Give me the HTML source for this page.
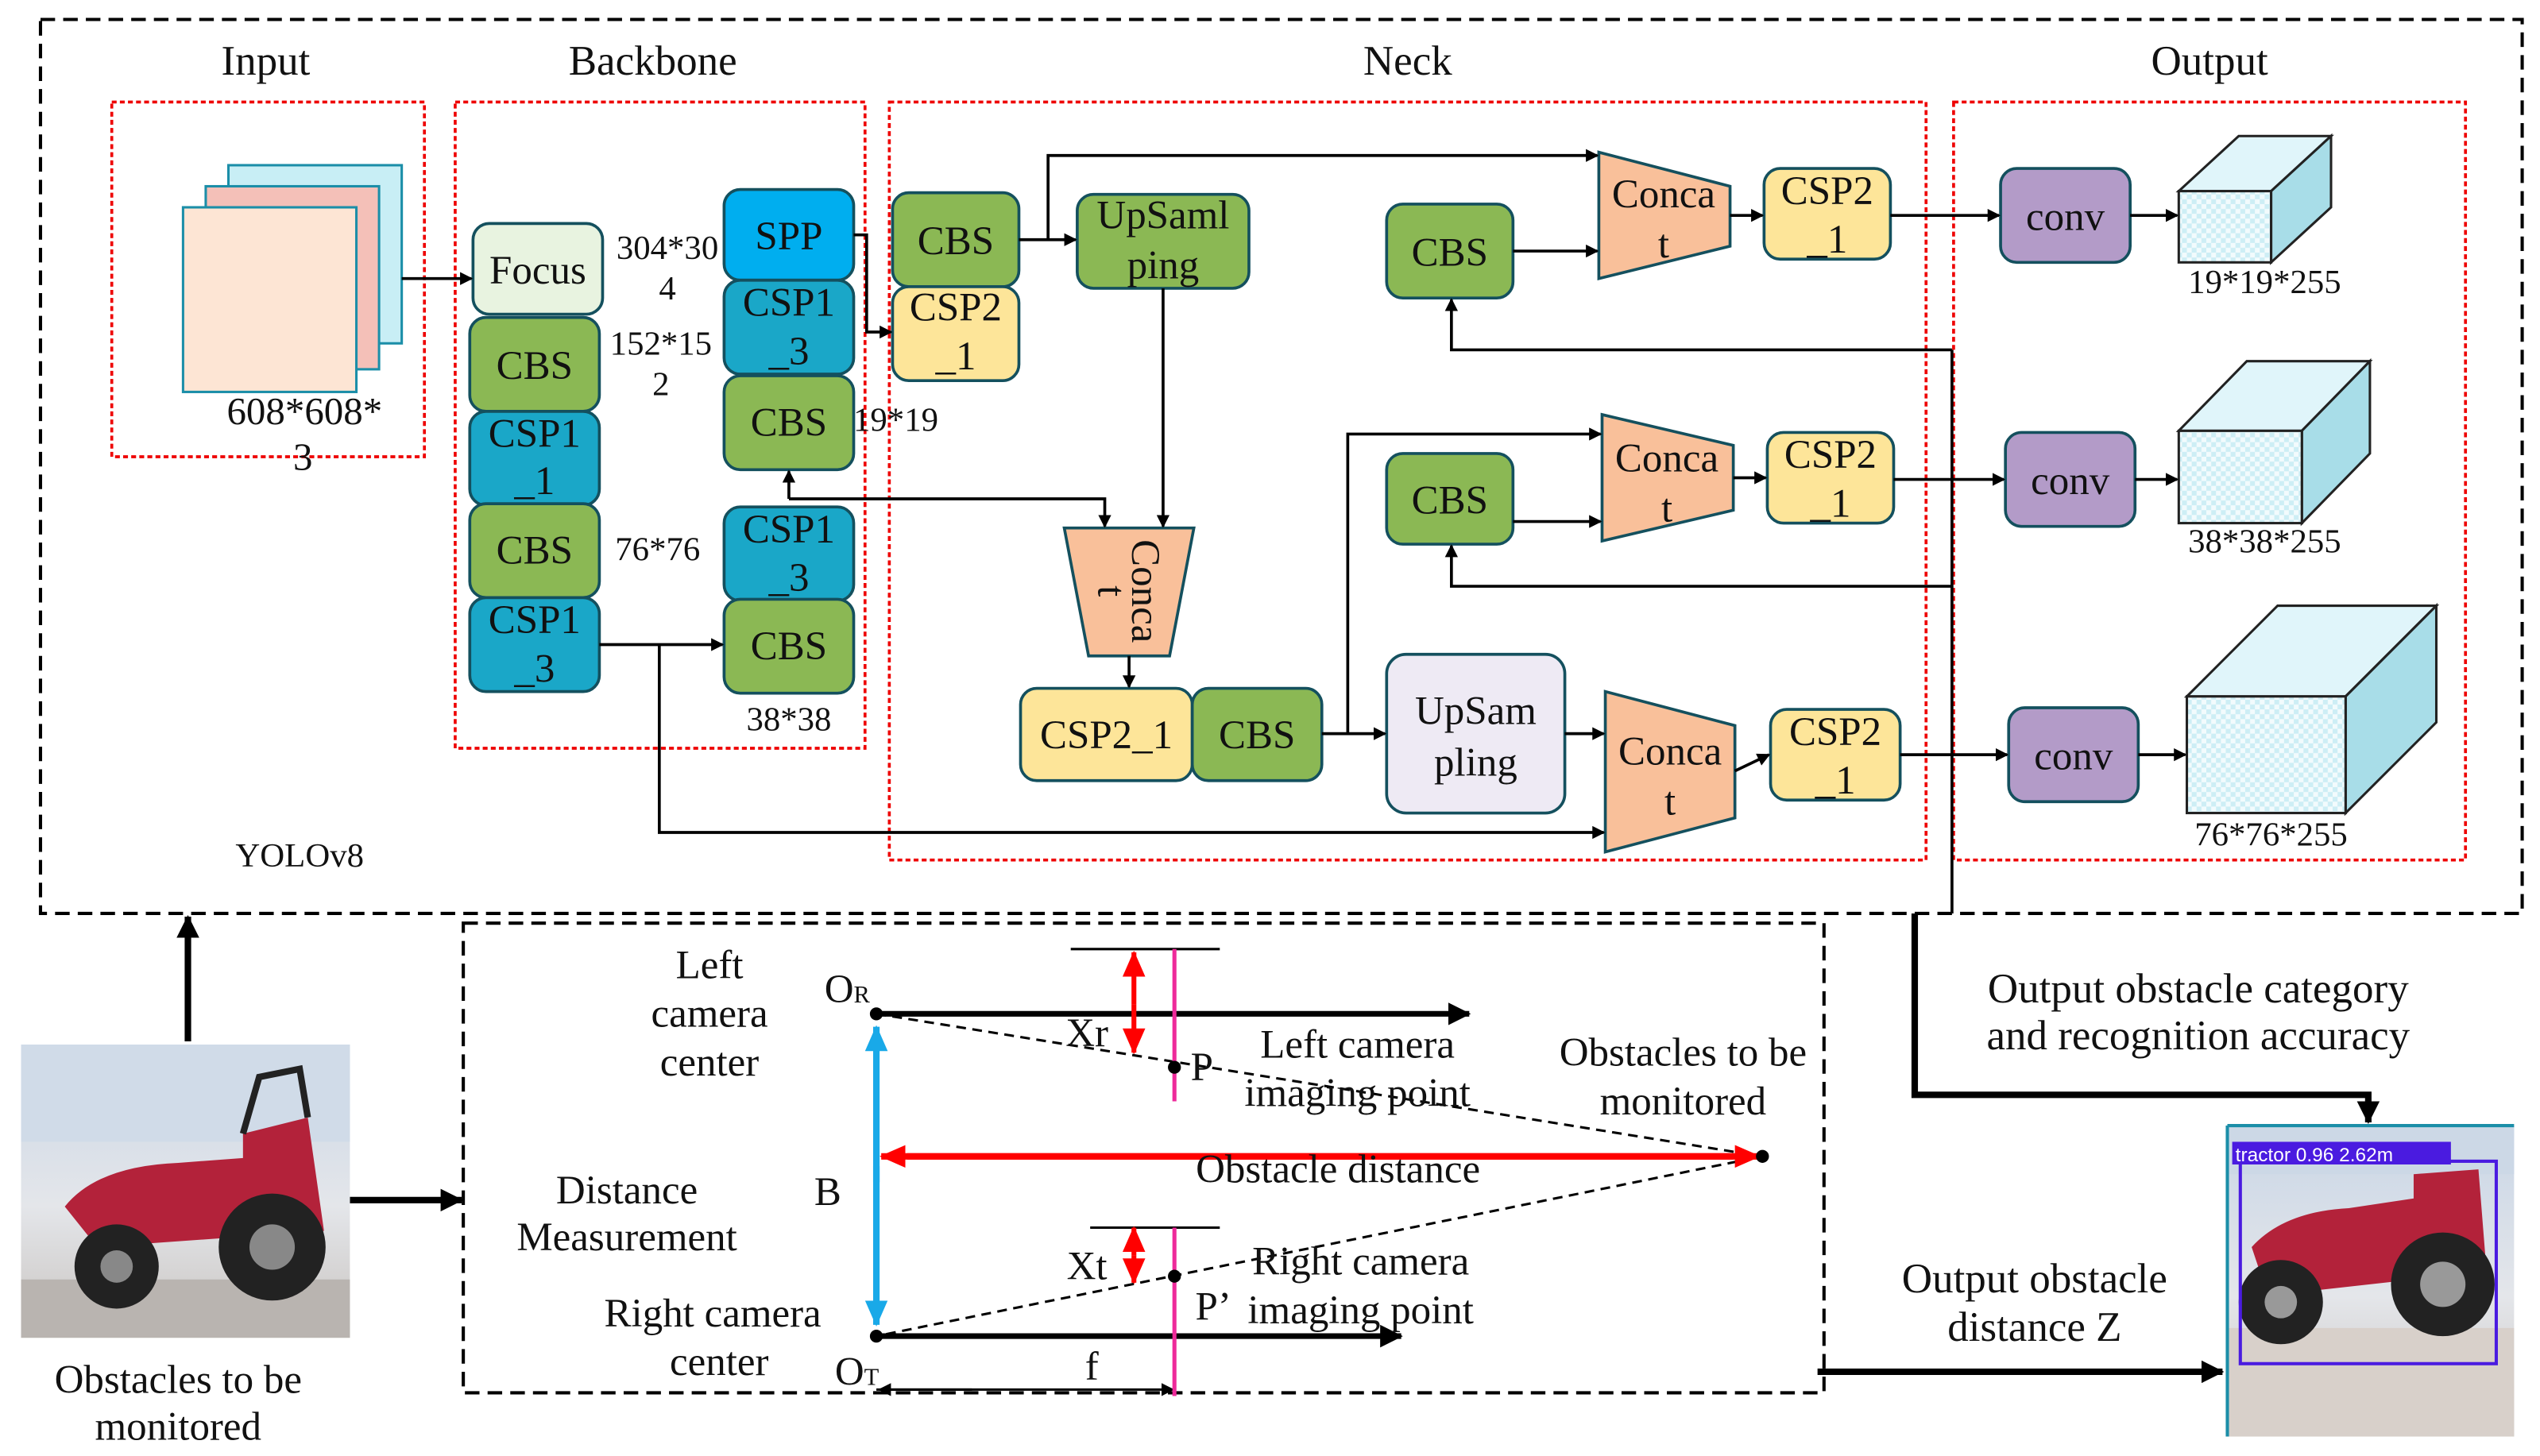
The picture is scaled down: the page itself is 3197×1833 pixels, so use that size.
<!DOCTYPE html>
<html><head><meta charset="utf-8"><style>
html,body{margin:0;padding:0;background:#fff}
svg{display:block}
text{font-family:"Liberation Serif",serif;fill:#111}
</style></head><body>
<svg width="3197" height="1833" viewBox="0 0 1568 899" xmlns="http://www.w3.org/2000/svg">
<defs>
<marker id="a" markerWidth="8" markerHeight="8" refX="7" refY="4" orient="auto" markerUnits="userSpaceOnUse"><path d="M0,0 L8,4 L0,8z" fill="#000"/></marker>
<marker id="ab" markerWidth="14" markerHeight="14" refX="13" refY="7" orient="auto" markerUnits="userSpaceOnUse"><path d="M0,0 L14,7 L0,14z" fill="#000"/></marker>
<marker id="ar" markerWidth="16" markerHeight="14" refX="15" refY="7" orient="auto" markerUnits="userSpaceOnUse"><path d="M0,0 L16,7 L0,14z" fill="#f00"/></marker>
<marker id="arb" markerWidth="16" markerHeight="14" refX="15" refY="7" orient="auto" markerUnits="userSpaceOnUse"><path d="M0,0 L16,7 L0,14z" fill="#19a9e8"/></marker>
<pattern id="chk" width="6" height="6" patternUnits="userSpaceOnUse"><rect width="6" height="6" fill="#f2fbfd"/><rect width="3" height="3" fill="#cdeef5"/><rect x="3" y="3" width="3" height="3" fill="#cdeef5"/></pattern>
<linearGradient id="sky" x1="0" y1="0" x2="0" y2="1"><stop offset="0" stop-color="#c9d6e6"/><stop offset=".55" stop-color="#e4e6ea"/><stop offset="1" stop-color="#c8c3bf"/></linearGradient>
</defs>

<rect x="25" y="12" width="1532" height="552" fill="none" stroke="#000" stroke-width="2" stroke-dasharray="9,5"/>
<rect x="286" y="570" width="840" height="290" fill="none" stroke="#000" stroke-width="2" stroke-dasharray="9,5"/>
<g fill="none" stroke="#e00" stroke-width="1.8" stroke-dasharray="3,2">
<rect x="69" y="63" width="193" height="219"/>
<rect x="281" y="63" width="253" height="399"/>
<rect x="549" y="63" width="640" height="468"/>
<rect x="1206" y="63" width="316" height="468"/>
</g>
<g font-size="26" text-anchor="middle">
<text x="164" y="46">Input</text><text x="403" y="46">Backbone</text><text x="869" y="46">Neck</text><text x="1364" y="46">Output</text>
</g>
<text x="185" y="535" font-size="21" text-anchor="middle">YOLOv8</text>

<rect x="141" y="102" width="107" height="110" fill="#c8eef5" stroke="#1b8ea8" stroke-width="1.5"/>
<rect x="127" y="115" width="107" height="113" fill="#f4c0b8" stroke="#1b8ea8" stroke-width="1.5"/>
<rect x="113" y="128" width="107" height="114" fill="#fde5d4" stroke="#1b8ea8" stroke-width="1.5"/>
<text x="188" y="262" font-size="24" text-anchor="middle">608*608*</text>
<text x="187" y="290" font-size="24" text-anchor="middle">3</text>

<g stroke="#14505e" stroke-width="1.8">
<rect x="292" y="138" width="80" height="56" rx="10" fill="#e8f3e0"/>
<rect x="290" y="196" width="80" height="58" rx="10" fill="#8bb854"/>
<rect x="290" y="254" width="80" height="58" rx="10" fill="#1aa7c8"/>
<rect x="290" y="311" width="80" height="58" rx="10" fill="#8bb854"/>
<rect x="290" y="369" width="80" height="58" rx="10" fill="#1aa7c8"/>
<rect x="447" y="117" width="80" height="56" rx="10" fill="#00aeef"/>
<rect x="447" y="173" width="80" height="58" rx="10" fill="#1aa7c8"/>
<rect x="447" y="232" width="80" height="58" rx="10" fill="#8bb854"/>
<rect x="447" y="313" width="80" height="58" rx="10" fill="#1aa7c8"/>
<rect x="447" y="370" width="80" height="58" rx="10" fill="#8bb854"/>
<rect x="551" y="119" width="78" height="58" rx="10" fill="#8bb854"/>
<rect x="551" y="177" width="78" height="58" rx="10" fill="#fde599"/>
<rect x="665" y="120" width="106" height="58" rx="10" fill="#8bb854"/>
<rect x="630" y="425" width="106" height="57" rx="10" fill="#fde599"/>
<rect x="736" y="425" width="80" height="57" rx="10" fill="#8bb854"/>
<rect x="856" y="126" width="78" height="58" rx="10" fill="#8bb854"/>
<rect x="856" y="280" width="78" height="56" rx="10" fill="#8bb854"/>
<rect x="856" y="404" width="110" height="98" rx="12" fill="#eeeaf4"/>
<rect x="1089" y="104" width="78" height="56" rx="10" fill="#fde599"/>
<rect x="1091" y="267" width="78" height="56" rx="10" fill="#fde599"/>
<rect x="1093" y="438" width="80" height="56" rx="10" fill="#fde599"/>
<rect x="1235" y="104" width="80" height="58" rx="10" fill="#b39bc8"/>
<rect x="1238" y="267" width="80" height="58" rx="10" fill="#b39bc8"/>
<rect x="1240" y="437" width="80" height="58" rx="10" fill="#b39bc8"/>
<path d="M657,326 L737,326 L722,405 L672,405z" fill="#f9c09a"/>
<path d="M987,94 L1068,115 L1068,152 L987,172z" fill="#f9c09a"/>
<path d="M989,256 L1070,275 L1070,315 L989,334z" fill="#f9c09a"/>
<path d="M991,427 L1071,448 L1071,505 L991,526z" fill="#f9c09a"/>
</g>
<g font-size="25" text-anchor="middle">
<text x="332" y="175">Focus</text>
<text x="330" y="234">CBS</text>
<text x="330" y="276">CSP1</text><text x="330" y="305">_1</text>
<text x="330" y="348">CBS</text>
<text x="330" y="391">CSP1</text><text x="330" y="421">_3</text>
<text x="487" y="154">SPP</text>
<text x="487" y="195">CSP1</text><text x="487" y="225">_3</text>
<text x="487" y="269">CBS</text>
<text x="487" y="335">CSP1</text><text x="487" y="365">_3</text>
<text x="487" y="407">CBS</text>
<text x="590" y="157">CBS</text>
<text x="590" y="198">CSP2</text><text x="590" y="228">_1</text>
<text x="718" y="141">UpSaml</text><text x="718" y="172">ping</text>
<text x="683" y="462">CSP2_1</text>
<text x="776" y="462">CBS</text>
<text x="895" y="164">CBS</text>
<text x="895" y="317">CBS</text>
<text x="911" y="447">UpSam</text><text x="911" y="479">pling</text>
<text x="1128" y="126">CSP2</text><text x="1128" y="156">_1</text>
<text x="1130" y="289">CSP2</text><text x="1130" y="319">_1</text>
<text x="1133" y="460">CSP2</text><text x="1133" y="490">_1</text>
<text x="1275" y="142">conv</text>
<text x="1278" y="305">conv</text>
<text x="1280" y="475">conv</text>
<text x="1027" y="128">Conca</text><text x="1027" y="159">t</text>
<text x="1029" y="291">Conca</text><text x="1029" y="322">t</text>
<text x="1031" y="472">Conca</text><text x="1031" y="503">t</text>
<text transform="translate(699,365) rotate(90)">Conca</text>
<text transform="translate(678,365) rotate(90)">t</text>
</g>
<g font-size="21" text-anchor="middle">
<text x="412" y="160">304*30</text><text x="412" y="185">4</text>
<text x="408" y="219">152*15</text><text x="408" y="244">2</text>
<text x="406" y="346">76*76</text>
<text x="553" y="266">19*19</text>
<text x="487" y="451">38*38</text>
<text x="1398" y="181">19*19*255</text>
<text x="1398" y="341">38*38*255</text>
<text x="1402" y="522">76*76*255</text>
</g>

<g stroke="#222" stroke-width="1.5">
<path d="M1345,118 L1382,84 L1439,84 L1402,118z" fill="#e0f5fa"/>
<path d="M1402,118 L1439,84 L1439,128 L1402,162z" fill="#a8dde8"/>
<rect x="1345" y="118" width="57" height="44" fill="url(#chk)"/>
<path d="M1345,266 L1387,223 L1463,223 L1421,266z" fill="#e0f5fa"/>
<path d="M1421,266 L1463,223 L1463,280 L1421,323z" fill="#a8dde8"/>
<rect x="1345" y="266" width="76" height="57" fill="url(#chk)"/>
<path d="M1350,430 L1406,374 L1504,374 L1448,430z" fill="#e0f5fa"/>
<path d="M1448,430 L1504,374 L1504,446 L1448,502z" fill="#a8dde8"/>
<rect x="1350" y="430" width="98" height="72" fill="url(#chk)"/>
</g>

<g fill="none" stroke="#000" stroke-width="1.8" marker-end="url(#a)">
<path d="M248,172 L291,172"/>
<path d="M370,398 L446,398"/>
<path d="M407,398 L407,514 L990,514"/>
<path d="M527,145 L535,145 L535,205 L550,205"/>
<path d="M629,148 L664,148"/>
<path d="M647,148 L647,96 L986,96"/>
<path d="M718,178 L718,325"/>
<path d="M487,308 L487,291"/>
<path d="M487,308 L682,308 L682,325"/>
<path d="M697,405 L697,424"/>
<path d="M816,453 L855,453"/>
<path d="M832,453 L832,268 L988,268"/>
<path d="M934,155 L986,155"/>
<path d="M934,322 L988,322"/>
<path d="M966,453 L990,453"/>
<path d="M1068,133 L1088,133"/>
<path d="M1070,295 L1090,295"/>
<path d="M1071,476 L1092,466"/>
<path d="M1167,133 L1234,133"/>
<path d="M1169,296 L1237,296"/>
<path d="M1173,466 L1239,466"/>
<path d="M1315,133 L1344,133"/>
<path d="M1318,296 L1344,296"/>
<path d="M1320,466 L1349,466"/>
<path d="M1205,216 L896,216 L896,185"/>
<path d="M1205,362 L896,362 L896,337"/>
</g>
<path d="M1205,216 L1205,564" stroke="#000" stroke-width="1.8" fill="none"/>

<g fill="none" stroke="#000" stroke-width="4" marker-end="url(#ab)">
<path d="M116,643 L116,566"/>
<path d="M216,741 L285,741"/>
<path d="M1182,564 L1182,676 L1462,676 L1462,693"/>
<path d="M1122,847 L1372,847"/>
</g>

<rect x="13" y="645" width="203" height="181" fill="url(#sky)"/>
<rect x="13" y="645" width="203" height="60" fill="#d0dbe8"/>
<rect x="13" y="790" width="203" height="36" fill="#b9b4b0"/>
<path d="M40,745 Q60,720 110,718 L150,715 L150,700 L190,690 L200,760 L60,770z" fill="#b3223a"/>
<circle cx="168" cy="770" r="33" fill="#222"/><circle cx="168" cy="770" r="14" fill="#888"/>
<circle cx="72" cy="782" r="26" fill="#222"/><circle cx="72" cy="782" r="10" fill="#888"/>
<path d="M150,700 L160,665 L185,660 L190,690" fill="none" stroke="#222" stroke-width="4"/>
<text x="110" y="860" font-size="25" text-anchor="middle">Obstacles to be</text>
<text x="110" y="889" font-size="25" text-anchor="middle">monitored</text>

<rect x="1375" y="695" width="177" height="192" fill="url(#sky)"/>
<rect x="1375" y="695" width="177" height="30" fill="#ccd8e6"/>
<rect x="1375" y="820" width="177" height="67" fill="#d8d0ca"/>
<path d="M1390,770 Q1410,748 1450,746 L1490,740 L1490,725 L1530,722 L1535,785 L1400,800z" fill="#b3223a"/>
<circle cx="1508" cy="793" r="32" fill="#222"/><circle cx="1508" cy="793" r="14" fill="#999"/>
<circle cx="1408" cy="804" r="26" fill="#222"/><circle cx="1408" cy="804" r="10" fill="#999"/>
<rect x="1383" y="717" width="158" height="125" fill="none" stroke="#4a1be0" stroke-width="2"/>
<rect x="1378" y="705" width="135" height="14" fill="#4a1be0"/>
<text x="1380" y="717" font-size="12" style="fill:#fff;font-family:'Liberation Sans',sans-serif">tractor 0.96 2.62m</text>
<path d="M1375,695 L1552,695 M1375,695 L1375,887" stroke="#1b8ea8" stroke-width="2" fill="none"/>

<g font-size="26" text-anchor="middle">
<text x="1357" y="619">Output obstacle category</text>
<text x="1357" y="648">and recognition accuracy</text>
<text x="1256" y="798">Output obstacle</text>
<text x="1256" y="828">distance Z</text>
</g>

<g stroke="#000" fill="none">
<path d="M541,626 L907,626" stroke-width="3.5" marker-end="url(#ab)"/>
<path d="M541,825 L865,825" stroke-width="3.5" marker-end="url(#ab)"/>
<path d="M541,626 L1088,714 L541,825" stroke-width="1.5" stroke-dasharray="6,4"/>
<path d="M661,586 L753,586 M673,758 L753,758" stroke-width="1.5"/>
<path d="M541,858 L724,858" stroke-width="1.5" marker-end="url(#a)"/>
<path d="M600,858 L543,858" stroke-width="1.5" marker-end="url(#a)"/>
</g>
<path d="M725,586 L725,680 M725,758 L725,862" stroke="#ee2a9a" stroke-width="2.5"/>
<path d="M1070,714 L544,714" stroke="#f00" stroke-width="4" marker-end="url(#ar)"/>
<path d="M560,714 L1086,714" stroke="#f00" stroke-width="4" marker-end="url(#ar)"/>
<path d="M700,620 L700,588" stroke="#f00" stroke-width="3" marker-end="url(#ar)"/>
<path d="M700,620 L700,650" stroke="#f00" stroke-width="3" marker-end="url(#ar)"/>
<path d="M700,775 L700,758" stroke="#f00" stroke-width="3" marker-end="url(#ar)"/>
<path d="M700,775 L700,792" stroke="#f00" stroke-width="3" marker-end="url(#ar)"/>
<path d="M541,730 L541,634" stroke="#19a9e8" stroke-width="4" marker-end="url(#arb)"/>
<path d="M541,720 L541,818" stroke="#19a9e8" stroke-width="4" marker-end="url(#arb)"/>
<g fill="#000"><circle cx="541" cy="626" r="4"/><circle cx="541" cy="825" r="4"/><circle cx="725" cy="659" r="4"/><circle cx="725" cy="788" r="4"/><circle cx="1088" cy="714" r="4"/></g>
<g font-size="25" text-anchor="middle">
<text x="438" y="604">Left</text><text x="438" y="634">camera</text><text x="438" y="664">center</text>
<text x="387" y="743">Distance</text><text x="387" y="772">Measurement</text>
<text x="440" y="819">Right camera</text><text x="444" y="849">center</text>
<text x="838" y="653">Left camera</text><text x="838" y="683">imaging point</text>
<text x="1039" y="658">Obstacles to be</text><text x="1039" y="688">monitored</text>
<text x="826" y="730">Obstacle distance</text>
<text x="840" y="787">Right camera</text><text x="840" y="817">imaging point</text>
<text x="511" y="744">B</text>
<text x="671" y="646">Xr</text>
<text x="671" y="790">Xt</text>
<text x="742" y="667">P</text>
<text x="749" y="815">P’</text>
<text x="674" y="852">f</text>
<text x="523" y="619">O<tspan font-size="15">R</tspan></text>
<text x="529" y="855">O<tspan font-size="15">T</tspan></text>
</g>
</svg>
</body></html>
